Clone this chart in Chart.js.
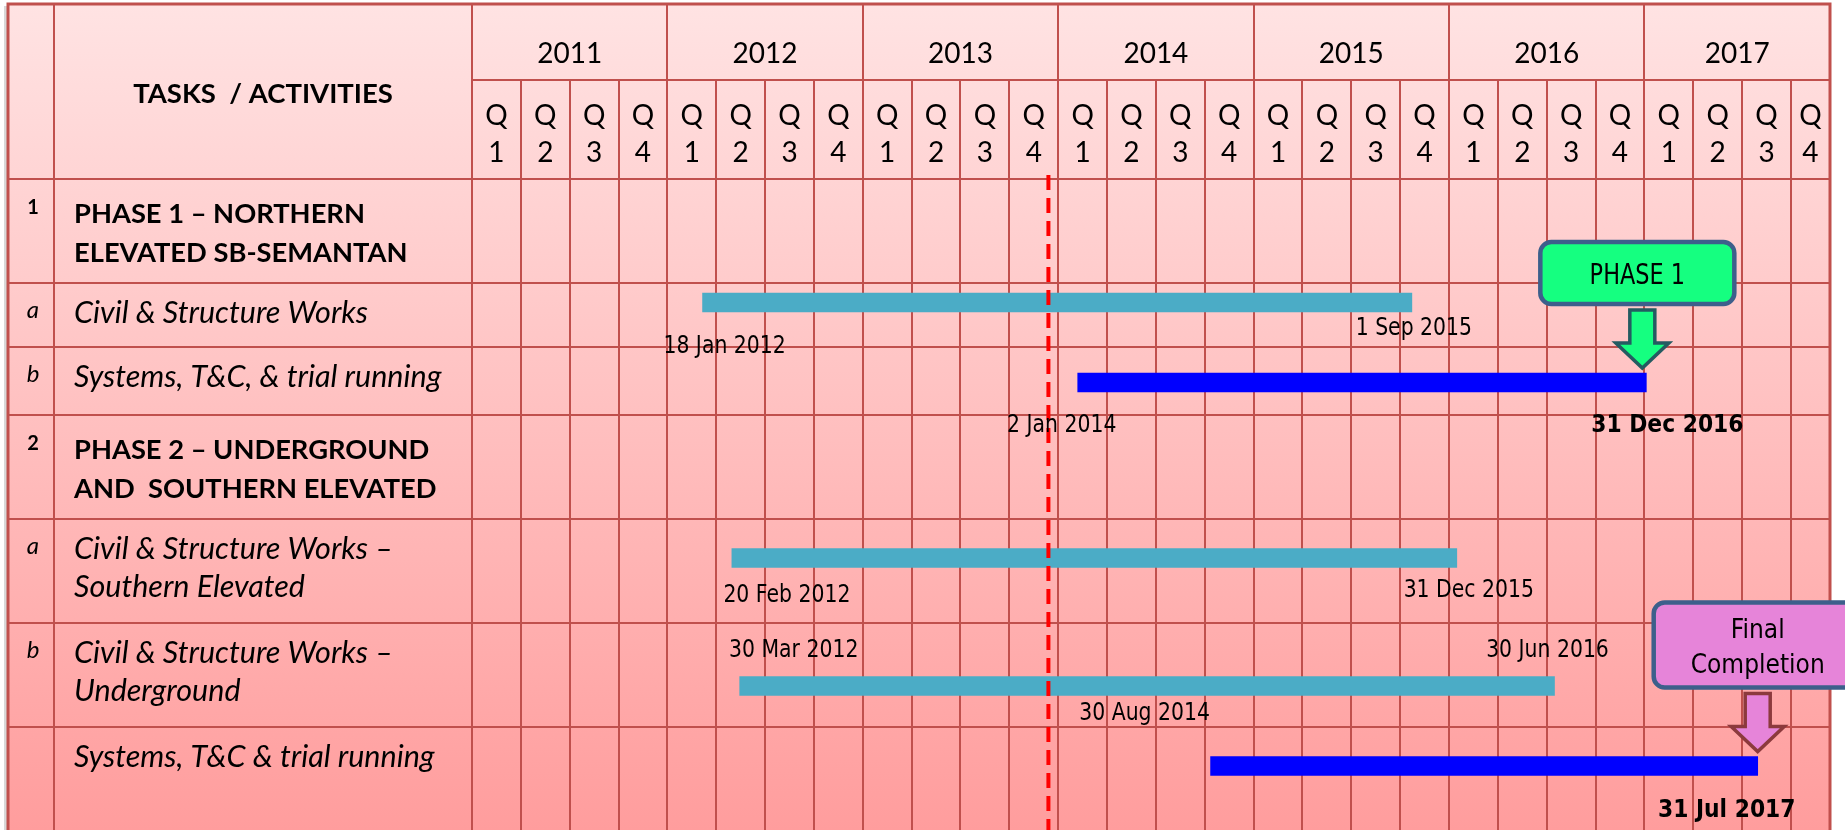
<!DOCTYPE html>
<html><head><meta charset="utf-8">
<script src="https://cdn.jsdelivr.net/npm/chart.js@4/dist/chart.umd.min.js"></script>
<style>html,body{margin:0;padding:0;background:#fff;overflow:hidden}canvas{display:block}</style>
</head><body>
<canvas id="c" width="1845" height="830"></canvas>
<script>
// ---------------- data ----------------
const years = [2011, 2012, 2013, 2014, 2015, 2016, 2017];
const quarters = ['1', '2', '3', '4'];
const headerTitle = 'TASKS  / ACTIVITIES';
const rowNumbers = ['1', 'a', 'b', '2', 'a', 'b', ''];
const rowLabels = [
  ['PHASE 1 – NORTHERN', 'ELEVATED SB-SEMANTAN'],
  ['Civil & Structure Works'],
  ['Systems, T&C, & trial running'],
  ['PHASE 2 – UNDERGROUND', 'AND  SOUTHERN ELEVATED'],
  ['Civil & Structure Works –', 'Southern Elevated'],
  ['Civil & Structure Works –', 'Underground'],
  ['Systems, T&C & trial running']
];
const rowIsHeading = [true, false, false, true, false, false, false];
const taskRow   = [1, 2, 4, 5, 6];
const taskStart = [2012.18, 2014.10, 2012.33, 2012.37, 2014.78];
const taskEnd   = [2015.81, 2017.01, 2016.04, 2016.54, 2017.58];
const taskKind  = ['civil', 'systems', 'civil', 'civil', 'systems'];
const startLabels = ['18 Jan 2012', '2 Jan 2014', '20 Feb 2012', '30 Mar 2012', '30 Aug 2014'];
const endLabels   = ['1 Sep 2015', '31 Dec 2016', '31 Dec 2015', '30 Jun 2016', '31 Jul 2017'];
const endLabelBold = [false, true, false, false, true];
const statusDate = 2013.95;
const milestoneTask = [1, 4];
const milestoneText = [['PHASE 1'], ['Final', 'Completion']];

// ---------------- layout / style ----------------
const L = {
  left: 8, numCol: 54, right: 1830, top: 4, yearRowBottom: 80, bottom: 830,
  taskTextX: 74, numTextX: 33,
  rowHeights: [104, 64, 68, 104, 104, 104, 103],
  barOffset: [19.5, 35.5, 39, 63, 39],
  startLabelOffset: [[22, 50.5], [-16, 49.5], [55, 43.5], [54, -29.5], [-66, -46]],
  endLabelOffset:   [[2, 32.5], [21, 49], [12, 39], [-7, -29.5], [-31, 50.5]],
  boxW: [194, 208], boxH: [62, 85], boxGap: 6, arrowShaft: 33, arrowHead: 25, arrowGap: 5,
  shaftW: 25, headW: 53, arrowDx: [-4, 0], boxDx: [-5, 0]
};
const COLORS = { civil: '#4BACC6', systems: '#0000FF', grid: '#C0504D' };
const MS_STYLE = [
  { fill: '#15FF80', border: '#3D5F8B', arrowLine: '#245B61', font: '28px "DejaVu Sans"', sx: 0.80, base: [42] },
  { fill: '#E684D9', border: '#3D5F8B', arrowLine: '#8C3A3D', font: '26px "DejaVu Sans"', sx: 0.90, base: [35, 70] }
];

const rowEdges = [0];
L.rowHeights.forEach(h => rowEdges.push(rowEdges[rowEdges.length - 1] + h));
const bodyMax = rowEdges[rowEdges.length - 1];

function sxText(ctx, text, x, y, font, align, sx) {
  ctx.save();
  ctx.font = font;
  ctx.textAlign = align;
  ctx.textBaseline = 'alphabetic';
  ctx.translate(x, y);
  ctx.scale(sx, 1);
  ctx.fillText(text, 0, 0);
  ctx.restore();
}

const tablePlugin = {
  id: 'ganttTable',
  beforeDatasetsDraw(chart) {
    const ctx = chart.ctx, xs = chart.scales.x, ys = chart.scales.y;
    const bodyTop = ys.top;
    ctx.save();
    ctx.fillStyle = '#fff';
    ctx.fillRect(0, 0, chart.width, chart.height);
    ctx.fillStyle = '#D8D8D8';
    ctx.fillRect(L.left - 4, L.top + 2, 4, L.bottom);
    const g = ctx.createLinearGradient(0, L.top, 0, L.bottom);
    g.addColorStop(0, '#FFE3E3');
    g.addColorStop(1, '#FF9D9D');
    ctx.fillStyle = g;
    ctx.fillRect(L.left, L.top, xs.right - L.left, L.bottom - L.top);

    ctx.strokeStyle = COLORS.grid;
    ctx.lineWidth = 2;
    const vline = (x, y0, y1) => { ctx.beginPath(); ctx.moveTo(x, y0); ctx.lineTo(x, y1); ctx.stroke(); };
    const hline = (y, x0, x1) => { ctx.beginPath(); ctx.moveTo(x0, y); ctx.lineTo(x1, y); ctx.stroke(); };

    years.forEach(yr => {
      quarters.forEach((q, j) => {
        const v = yr + j / 4;
        if (v >= xs.max) return;
        const px = Math.round(xs.getPixelForValue(v));
        vline(px, j === 0 ? L.top : L.yearRowBottom, L.bottom);
      });
    });
    vline(L.numCol, L.top, L.bottom);
    hline(L.yearRowBottom, xs.left, xs.right);
    hline(bodyTop, L.left, xs.right);
    rowEdges.forEach((e, i) => {
      if (i === 0 || i === rowEdges.length - 1) return;
      hline(Math.round(ys.getPixelForValue(e)), L.left, xs.right);
    });
    ctx.lineWidth = 3;
    ctx.strokeRect(L.left, L.top, xs.right - L.left, L.bottom - L.top + 4);

    ctx.fillStyle = '#000';
    sxText(ctx, headerTitle, (L.numCol + xs.left) / 2, 103, 'bold 27.5px Lato', 'center', 1);
    years.forEach(yr => {
      const a = xs.getPixelForValue(yr), b = xs.getPixelForValue(Math.min(yr + 1, xs.max));
      sxText(ctx, String(yr), (a + b) / 2, 63, '28px Lato', 'center', 1);
      quarters.forEach((q, j) => {
        const qa = xs.getPixelForValue(yr + j / 4), qb = xs.getPixelForValue(Math.min(yr + (j + 1) / 4, xs.max));
        const cx = (qa + qb) / 2;
        sxText(ctx, 'Q', cx, 125, '28px Lato', 'center', 1);
        sxText(ctx, q, cx, 162, '28px Lato', 'center', 1);
      });
    });

    rowLabels.forEach((lines, i) => {
      const top = ys.getPixelForValue(rowEdges[i]);
      const num = rowNumbers[i];
      if (num) {
        const isDigit = /\d/.test(num);
        sxText(ctx, num, L.numTextX, top + 35, isDigit ? 'bold 20px Lato' : 'italic 24px Lato', 'center', 1);
      }
      const heading = rowIsHeading[i];
      lines.forEach((t, k) => {
        const y = top + (heading ? 44 : 40) + k * (heading ? 38.5 : 38);
        sxText(ctx, t, L.taskTextX, y, heading ? 'bold 27.3px Lato' : 'italic 30.5px Lato', 'left', 1);
      });
    });
    ctx.restore();
  },
  afterDatasetsDraw(chart) {
    const ctx = chart.ctx, xs = chart.scales.x, ys = chart.scales.y;
    ctx.save();
    ctx.fillStyle = '#000';
    taskStart.forEach((s, i) => {
      const yc = ys.getPixelForValue(rowEdges[taskRow[i]] + L.barOffset[i]);
      const xs0 = xs.getPixelForValue(s), xe = xs.getPixelForValue(taskEnd[i]);
      const so = L.startLabelOffset[i], eo = L.endLabelOffset[i];
      sxText(ctx, startLabels[i], xs0 + so[0], yc + so[1], '24px "DejaVu Sans"', 'center', 0.85);
      sxText(ctx, endLabels[i], xe + eo[0], yc + eo[1],
        endLabelBold[i] ? 'bold 24px "DejaVu Sans"' : '24px "DejaVu Sans"', 'center', endLabelBold[i] ? 0.91 : 0.85);
    });
    milestoneTask.forEach((t, m) => {
      const st = MS_STYLE[m];
      const yc = ys.getPixelForValue(rowEdges[taskRow[t]] + L.barOffset[t]);
      const barTop = yc - 9.5;
      const ax = xs.getPixelForValue(taskEnd[t]) + L.arrowDx[m];
      const tip = barTop - L.arrowGap;
      const headTop = tip - L.arrowHead;
      const shaftTop = headTop - L.arrowShaft;
      ctx.beginPath();
      ctx.moveTo(ax - L.shaftW / 2, shaftTop);
      ctx.lineTo(ax + L.shaftW / 2, shaftTop);
      ctx.lineTo(ax + L.shaftW / 2, headTop);
      ctx.lineTo(ax + L.headW / 2, headTop);
      ctx.lineTo(ax, tip);
      ctx.lineTo(ax - L.headW / 2, headTop);
      ctx.lineTo(ax - L.shaftW / 2, headTop);
      ctx.closePath();
      ctx.fillStyle = st.fill;
      ctx.fill();
      ctx.lineWidth = 3.5;
      ctx.lineJoin = 'miter';
      ctx.strokeStyle = st.arrowLine;
      ctx.stroke();
      const bw = L.boxW[m], bh = L.boxH[m];
      const bx = ax + L.boxDx[m] - bw / 2, by = shaftTop - L.boxGap - bh;
      ctx.beginPath();
      ctx.roundRect(bx, by, bw, bh, 11);
      ctx.fillStyle = st.fill;
      ctx.fill();
      ctx.lineWidth = 4.5;
      ctx.strokeStyle = st.border;
      ctx.stroke();
      ctx.fillStyle = '#000';
      milestoneText[m].forEach((line, k) => {
        sxText(ctx, line, bx + bw / 2, by + st.base[k], st.font, 'center', st.sx);
      });
    });
    ctx.restore();
  }
};

const barData = taskStart.map((s, i) => ({ x: [s, taskEnd[i]], y: rowEdges[taskRow[i]] + L.barOffset[i] }));

new Chart(document.getElementById('c'), {
  type: 'bar',
  data: {
    datasets: [
      {
        type: 'line',
        label: 'Status date',
        data: [{ x: statusDate, y: -4 }, { x: statusDate, y: bodyMax }],
        borderColor: '#FF0000',
        borderWidth: 4,
        borderDash: [15, 8],
        pointRadius: 0,
        fill: false,
        clip: false,
        order: 0
      },
      {
        type: 'bar',
        label: 'Tasks',
        data: barData,
        backgroundColor: taskKind.map(k => COLORS[k]),
        borderWidth: 0,
        barThickness: 19,
        order: 1
      }
    ]
  },
  options: {
    indexAxis: 'y',
    responsive: false,
    animation: false,
    devicePixelRatio: 1,
    layout: { padding: { left: 472, right: 15, top: 179, bottom: 0 } },
    scales: {
      x: { type: 'linear', min: 2011, max: 2017.95, display: false, offset: false },
      y: { type: 'linear', min: 0, max: bodyMax, reverse: true, display: false, offset: false }
    },
    plugins: { legend: { display: false }, tooltip: { enabled: false } }
  },
  plugins: [tablePlugin]
});
</script>
</body></html>
